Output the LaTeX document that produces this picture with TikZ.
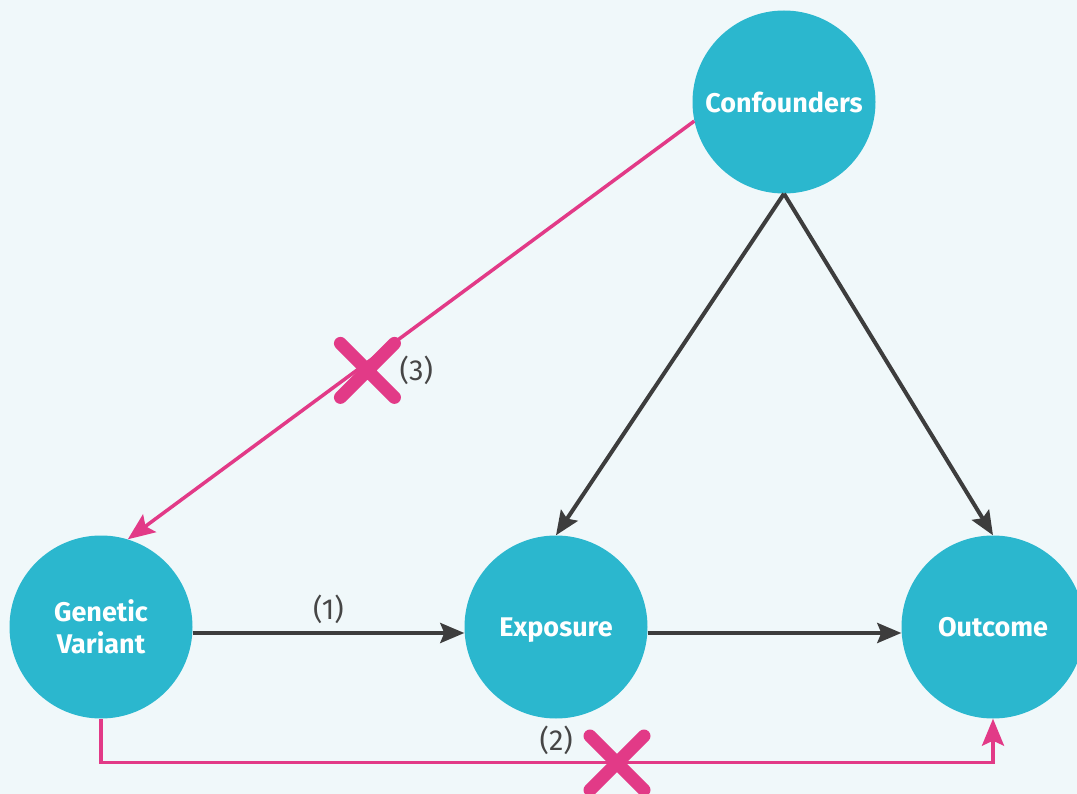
\documentclass[tikz,border=0pt]{standalone}
\usepackage{fontspec}
\setmainfont{Fira Sans}
\usetikzlibrary{arrows.meta,positioning}
\definecolor{cus-bg}{RGB}{240,248,250}
\definecolor{cus-teal}{RGB}{43,183,206}
\definecolor{cus-pink}{RGB}{226,58,135}
\definecolor{cus-dark}{RGB}{61,61,61}
\definecolor{cus-text}{RGB}{70,70,70}
\tikzset{
	var/.style={circle, fill=cus-teal, minimum size=183pt, inner sep=0pt, text=white, font=\fontsize{27}{32}\selectfont\bfseries, align=center},
	path/.style={line width=4pt, draw=cus-dark, -{Stealth[length=24pt,width=20pt,inset=4pt]}},
	biased/.style={line width=3.5pt, draw=cus-pink, -{Stealth[length=27pt,width=22pt,inset=5pt]}},
	lbl/.style={text=cus-text, inner sep=2pt, font=\fontsize{29}{32}\selectfont},
	nocross/.pic={\draw[cus-pink, line width=13pt, line cap=round] (-27,-27)--(27,27) (-27,27)--(27,-27);}
}
\begin{document}
\begin{tikzpicture}[x=1pt, y=-1pt]
\fill[cus-bg] (0,0) rectangle (1077,794);
\useasboundingbox (0,0) rectangle (1077,794);
% nodes
\node[var] (conf) at (784,102) {Confounders};
\node[var] (gv) at (101,627) {Genetic\\Variant};
\node[var] (exp) at (556,627) {\raisebox{0pt}[\height][0pt]{Exposure}};
\node[var] (out) at (993,627) {Outcome};
% causal paths
\draw[path] ([yshift=-6pt]gv.east) -- node[lbl, above=5pt] {(1)} ([yshift=-6pt]exp.west);
\draw[path] ([yshift=-6pt]exp.east) -- ([yshift=-6pt]out.west);
\foreach \t in {exp, out}{
	\draw[path] (conf.south) -- (\t.north);
}
% violated assumptions
\draw[biased] (conf.192) -- coordinate[pos=0.577] (x3) (gv.73);
\draw[biased] (gv.south) -- ++(0,44) coordinate (bend) -| (out.south);
\coordinate (x2) at (617,763);
\pic at ([yshift=-8pt]x3) {nocross};
\pic at (x2) {nocross};
\node[lbl, right=30pt of x3, yshift=-8pt] (l3) {(3)};
\node[lbl, above left=6pt and 42pt of x2] (l2) {(2)};
\end{tikzpicture}
\end{document}
